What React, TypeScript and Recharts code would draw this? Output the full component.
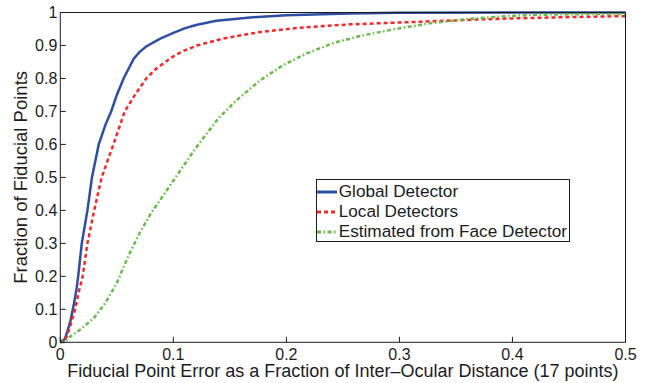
import { LineChart, Line, XAxis, YAxis, Legend } from "recharts";

// x = point error / inter-ocular distance, y = fraction of points below it
const globalX = [0, 0.004, 0.006, 0.009, 0.012, 0.0145, 0.0158, 0.019, 0.024, 0.028, 0.034, 0.04, 0.045, 0.05, 0.056, 0.065, 0.07, 0.076, 0.088, 0.1, 0.11, 0.12, 0.138, 0.168, 0.2, 0.256, 0.3, 0.4, 0.5];
const globalY = [0, 0.01, 0.03, 0.065, 0.115, 0.165, 0.2, 0.3, 0.4, 0.5, 0.6, 0.66, 0.7, 0.75, 0.8, 0.86, 0.88, 0.897, 0.92, 0.938, 0.952, 0.962, 0.975, 0.985, 0.992, 0.997, 0.999, 1, 1];

const localX = [0, 0.004, 0.0086, 0.013, 0.016, 0.0198, 0.024, 0.03, 0.0366, 0.047, 0.057, 0.066, 0.076, 0.085, 0.093, 0.1, 0.108, 0.121, 0.144, 0.177, 0.212, 0.256, 0.303, 0.371, 0.4, 0.45, 0.5];
const localY = [0, 0.002, 0.047, 0.098, 0.148, 0.2, 0.3, 0.4, 0.5, 0.6, 0.7, 0.75, 0.8, 0.83, 0.85, 0.867, 0.882, 0.9, 0.921, 0.941, 0.954, 0.964, 0.97, 0.979, 0.982, 0.986, 0.989];

const faceX = [0, 0.005, 0.0086, 0.019, 0.03, 0.04, 0.05, 0.06, 0.07, 0.08, 0.09, 0.1, 0.11, 0.12, 0.13, 0.14, 0.156, 0.177, 0.197, 0.218, 0.242, 0.268, 0.298, 0.327, 0.357, 0.39, 0.42, 0.46, 0.5];
const faceY = [0, 0.003, 0.017, 0.042, 0.075, 0.12, 0.18, 0.26, 0.33, 0.39, 0.44, 0.49, 0.54, 0.59, 0.635, 0.68, 0.734, 0.795, 0.84, 0.876, 0.908, 0.931, 0.951, 0.967, 0.979, 0.988, 0.993, 0.995, 0.996];

const xTicks = [0, 0.1, 0.2, 0.3, 0.4, 0.5];
const yTicks = [0, 0.1, 0.2, 0.3, 0.4, 0.5, 0.6, 0.7, 0.8, 0.9, 1];

const zip = (xs: number[], ys: number[]) => xs.map((x, i) => ({ x, y: ys[i] }));

const series = [
  { name: "Global Detector", data: zip(globalX, globalY), color: "#2d4ea3", dash: undefined as string | undefined },
  { name: "Local Detectors", data: zip(localX, localY), color: "#f52828", dash: "4 3" },
  { name: "Estimated from Face Detector", data: zip(faceX, faceY), color: "#66bb44", dash: "4 2.5 1.5 2.5" },
];

const FONT = '"Liberation Sans", Arial, Helvetica, sans-serif';
const INK = "#1c1c1c";
const TICK = 5.5;

const BottomTick = ({ x, y, payload }: any) => (
  <g>
    <line x1={x} x2={x} y1={y} y2={y - TICK} stroke={INK} />
    <text x={x} y={y + 17.7} textAnchor="middle" fontSize={16} fill={INK} fontFamily={FONT}>
      {String(payload.value)}
    </text>
  </g>
);

const TopTick = ({ x, y }: any) => <line x1={x} x2={x} y1={y} y2={y + TICK} stroke={INK} />;

const LeftTick = ({ x, y, payload }: any) => (
  <g>
    <line x1={x} x2={x + TICK} y1={y} y2={y} stroke={INK} />
    <text x={x - 3} y={y + 5.6} textAnchor="end" fontSize={16} fill={INK} fontFamily={FONT}>
      {String(payload.value)}
    </text>
  </g>
);

const RightTick = ({ x, y }: any) => <line x1={x} x2={x - TICK} y1={y} y2={y} stroke={INK} />;

const XTitle = ({ viewBox }: any) => (
  <text x={viewBox.x + viewBox.width / 2} y={viewBox.y + 34.5} textAnchor="middle" fontSize={18} fill={INK} fontFamily={FONT}>
    Fiducial Point Error as a Fraction of Inter–Ocular Distance (17 points)
  </text>
);

const YTitle = ({ viewBox }: any) => {
  const cy = viewBox.y + viewBox.height / 2;
  return (
    <text x={27.5} y={cy} transform={`rotate(-90 27.5 ${cy})`} textAnchor="middle" fontSize={18.5} fill={INK} fontFamily={FONT}>
      Fraction of Fiducial Points
    </text>
  );
};

const LegendBox = () => (
  <div
    style={{
      boxSizing: "border-box",
      width: 254,
      height: 63,
      border: `1px solid ${INK}`,
      background: "#fff",
      paddingTop: 1.5,
      fontFamily: FONT,
      fontSize: 17.2,
      color: INK,
    }}
  >
    {series.map((s) => (
      <div key={s.name} style={{ display: "flex", alignItems: "center", height: 20, whiteSpace: "nowrap" }}>
        <svg width={22} height={20} style={{ flex: "none" }}>
          <line x1={0} x2={20} y1={10} y2={10} stroke={s.color} strokeWidth={3} strokeDasharray={s.dash} />
        </svg>
        <span>{s.name}</span>
      </div>
    ))}
  </div>
);

export default function App() {
  return (
    <div style={{ position: "absolute", left: 0, top: 0, background: "#fff" }}>
      <LineChart width={649} height={383} margin={{ top: 0, right: 0, bottom: 0, left: 0 }}>
        <XAxis
          xAxisId="b"
          dataKey="x"
          type="number"
          domain={[0, 0.5]}
          ticks={xTicks}
          height={40.7}
          tickSize={0}
          tickMargin={0}
          tickLine={false}
          axisLine={{ stroke: INK }}
          tick={<BottomTick />}
          label={<XTitle />}
          allowDuplicatedCategory={false}
        />
        <XAxis
          xAxisId="t"
          orientation="top"
          dataKey="x"
          type="number"
          domain={[0, 0.5]}
          ticks={xTicks}
          height={12.5}
          tickSize={0}
          tickMargin={0}
          tickLine={false}
          axisLine={{ stroke: INK }}
          tick={<TopTick />}
        />
        <YAxis
          yAxisId="l"
          type="number"
          domain={[0, 1]}
          ticks={yTicks}
          width={60.3}
          tickSize={0}
          tickMargin={0}
          tickLine={false}
          axisLine={{ stroke: INK }}
          tick={<LeftTick />}
          label={<YTitle />}
        />
        <YAxis
          yAxisId="r"
          orientation="right"
          type="number"
          domain={[0, 1]}
          ticks={yTicks}
          width={23.5}
          tickSize={0}
          tickMargin={0}
          tickLine={false}
          axisLine={{ stroke: INK }}
          tick={<RightTick />}
        />
        <Legend
          layout="vertical"
          align="center"
          verticalAlign="middle"
          content={<LegendBox />}
          wrapperStyle={{ position: "absolute", left: 315.7, top: 179, width: 254, height: 63 }}
        />
        {series.map((s) => (
          <Line
            key={s.name}
            xAxisId="b"
            yAxisId="l"
            data={s.data}
            dataKey="y"
            name={s.name}
            type="linear"
            stroke={s.color}
            strokeWidth={2.5}
            strokeDasharray={s.dash}
            dot={false}
            activeDot={false}
            isAnimationActive={false}
          />
        ))}
      </LineChart>
    </div>
  );
}
